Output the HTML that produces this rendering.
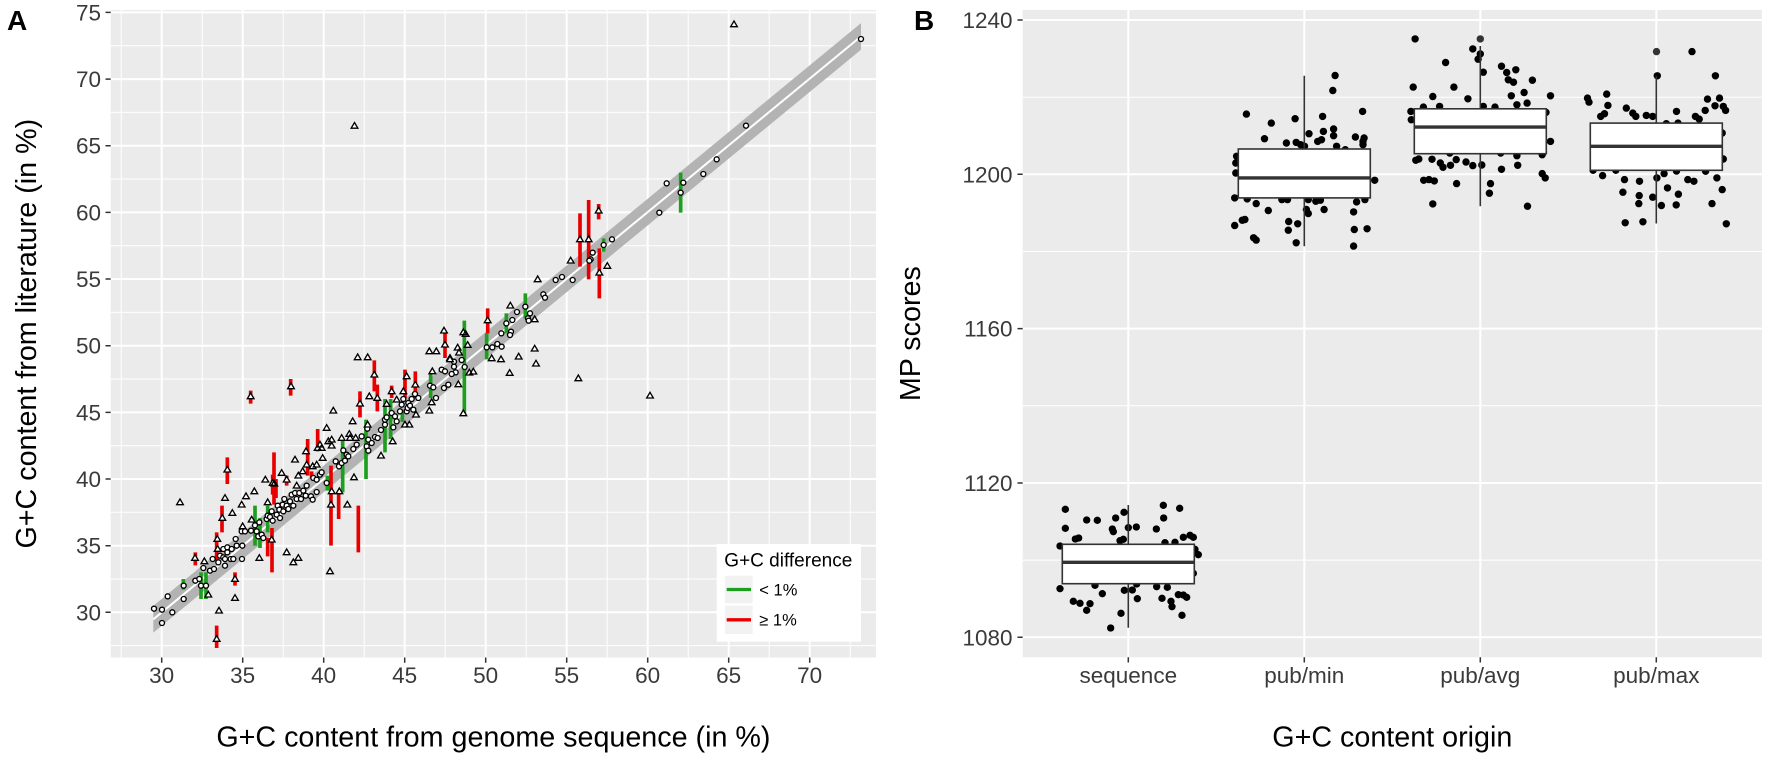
<!DOCTYPE html>
<html><head><meta charset="utf-8"><style>
html,body{margin:0;padding:0;background:#fff;}
svg{display:block;font-family:"Liberation Sans",Arial,Helvetica,sans-serif;}
</style></head><body>
<svg width="1772" height="759" viewBox="0 0 1772 759" xmlns="http://www.w3.org/2000/svg">
<rect x="0" y="0" width="1772" height="759" fill="#fff"/>
<defs>
<clipPath id="ca"><rect x="110.7" y="10" width="765.3" height="647.5"/></clipPath>
<clipPath id="cb"><rect x="1022.7" y="10" width="739.2" height="647.3"/></clipPath>
</defs>

<!-- PANEL A -->
<rect x="110.7" y="10" width="765.3" height="647.5" fill="#EBEBEB"/>
<g stroke="#fff" stroke-width="1" fill="none">
<path d="M121.2,10V657.5M202.2,10V657.5M283.2,10V657.5M364.2,10V657.5M445.2,10V657.5M526.2,10V657.5M607.2,10V657.5M688.2,10V657.5M769.2,10V657.5M850.2,10V657.5"/>
<path d="M110.7,645.6H876M110.7,579H876M110.7,512.3H876M110.7,445.7H876M110.7,379H876M110.7,312.4H876M110.7,245.7H876M110.7,179H876M110.7,112.4H876M110.7,45.7H876"/>
</g>
<g stroke="#fff" stroke-width="2" fill="none">
<path d="M161.7,10V657.5M242.7,10V657.5M323.7,10V657.5M404.7,10V657.5M485.7,10V657.5M566.7,10V657.5M647.7,10V657.5M728.7,10V657.5M809.7,10V657.5"/>
<path d="M110.7,612.3H876M110.7,545.7H876M110.7,479H876M110.7,412.4H876M110.7,345.7H876M110.7,279H876M110.7,212.4H876M110.7,145.7H876M110.7,79.1H876M110.7,12.4H876"/>
</g>

<g clip-path="url(#ca)">
<polygon points="153.3,605.9 861,23.1 861,49.7 153.3,632.6" fill="#B3B3B3"/>
<line x1="153.3" y1="619.3" x2="861" y2="36.4" stroke="#fff" stroke-width="2"/>

<!-- error bars -->
<g transform="translate(140,218) scale(0.333333)" fill="none" stroke-width="11">
<path stroke="#E80000" d="M166,1003V1042M230,943V1030M230,1223V1290M246,863V943M262,718V798M285,1063V1103M332,518V557M396,930V1063M398,770V830M402,703V860M408,783V840M383,960V1015M452,483V533M440,773V803M503,663V773M515,760V780M533,633V700M573,743V983M596,820V903M655,863V1003M660,520V598M703,427V520M712,500V580M755,503V540M795,455V540M826,460V540M915,340V420"/>
<path stroke="#1E9E1E" d="M130,1083V1115M183,1063V1143M198,1063V1143M345,863V983M360,900V990M383,863V943M562,773V818M608,663V823M678,605V783M735,543V703M752,543V663M787,575V612M872,465V540"/>
</g>
<g transform="translate(440,120) scale(0.333333)" fill="none" stroke-width="11">
<path stroke="#E80000" d="M476,252V298M420,280V440M446,240V478M478,385V535M143,565V640"/>
<path stroke="#1E9E1E" d="M491,355V395M722,158V278M256,520V595M199,580V640M73,602V880M140,640V718"/>
</g>

<!-- points Z11 -->
<g transform="translate(140,218) scale(0.333333)" fill="#fff" stroke="#000" stroke-width="4">
<circle cx="42" cy="1172" r="7.5"/><circle cx="66" cy="1175" r="7.5"/><circle cx="66" cy="1215" r="7.5"/><circle cx="83" cy="1135" r="7.5"/><circle cx="97" cy="1183" r="7.5"/><circle cx="131" cy="1143" r="7.5"/><circle cx="131" cy="1103" r="7.5"/><circle cx="166" cy="1088" r="7.5"/><circle cx="178" cy="1083" r="7.5"/><circle cx="183" cy="1103" r="7.5"/><circle cx="198" cy="1103" r="7.5"/><circle cx="190" cy="1050" r="7.5"/><circle cx="210" cy="1058" r="7.5"/><circle cx="222" cy="1053" r="7.5"/><circle cx="218" cy="1023" r="7.5"/><circle cx="235" cy="1033" r="7.5"/><circle cx="240" cy="1013" r="7.5"/><circle cx="250" cy="1018" r="7.5"/><circle cx="255" cy="1043" r="7.5"/><circle cx="250" cy="993" r="7.5"/><circle cx="262" cy="988" r="7.5"/><circle cx="275" cy="993" r="7.5"/><circle cx="262" cy="1003" r="7.5"/><circle cx="272" cy="1023" r="7.5"/><circle cx="255" cy="1023" r="7.5"/><circle cx="280" cy="1023" r="7.5"/><circle cx="290" cy="983" r="7.5"/><circle cx="307" cy="983" r="7.5"/><circle cx="306" cy="1023" r="7.5"/><circle cx="287" cy="963" r="7.5"/><circle cx="305" cy="940" r="7.5"/><circle cx="315" cy="940" r="7.5"/><circle cx="333" cy="938" r="7.5"/><circle cx="345" cy="922" r="7.5"/><circle cx="350" cy="940" r="7.5"/><circle cx="355" cy="955" r="7.5"/><circle cx="358" cy="913" r="7.5"/><circle cx="365" cy="950" r="7.5"/><circle cx="370" cy="960" r="7.5"/><circle cx="380" cy="903" r="7.5"/><circle cx="383" cy="893" r="7.5"/><circle cx="390" cy="897" r="7.5"/><circle cx="395" cy="880" r="7.5"/><circle cx="398" cy="908" r="7.5"/><circle cx="410" cy="890" r="7.5"/><circle cx="413" cy="863" r="7.5"/><circle cx="418" cy="875" r="7.5"/><circle cx="420" cy="900" r="7.5"/><circle cx="428" cy="860" r="7.5"/><circle cx="430" cy="880" r="7.5"/><circle cx="433" cy="843" r="7.5"/><circle cx="440" cy="863" r="7.5"/><circle cx="445" cy="873" r="7.5"/><circle cx="450" cy="850" r="7.5"/><circle cx="455" cy="830" r="7.5"/><circle cx="460" cy="863" r="7.5"/><circle cx="465" cy="825" r="7.5"/><circle cx="470" cy="843" r="7.5"/><circle cx="478" cy="825" r="7.5"/><circle cx="483" cy="843" r="7.5"/><circle cx="490" cy="818" r="7.5"/><circle cx="497" cy="833" r="7.5"/><circle cx="500" cy="803" r="7.5"/><circle cx="513" cy="835" r="7.5"/><circle cx="518" cy="845" r="7.5"/><circle cx="520" cy="780" r="7.5"/><circle cx="530" cy="822" r="7.5"/><circle cx="530" cy="785" r="7.5"/><circle cx="540" cy="770" r="7.5"/><circle cx="545" cy="763" r="7.5"/><circle cx="560" cy="795" r="7.5"/><circle cx="587" cy="730" r="7.5"/><circle cx="597" cy="745" r="7.5"/><circle cx="605" cy="735" r="7.5"/><circle cx="610" cy="697" r="7.5"/><circle cx="615" cy="728" r="7.5"/><circle cx="620" cy="710" r="7.5"/><circle cx="625" cy="715" r="7.5"/><circle cx="640" cy="693" r="7.5"/><circle cx="650" cy="680" r="7.5"/><circle cx="665" cy="655" r="7.5"/><circle cx="680" cy="685" r="7.5"/><circle cx="682" cy="632" r="7.5"/><circle cx="685" cy="665" r="7.5"/><circle cx="685" cy="698" r="7.5"/><circle cx="695" cy="675" r="7.5"/><circle cx="705" cy="657" r="7.5"/><circle cx="713" cy="660" r="7.5"/><circle cx="723" cy="636" r="7.5"/><circle cx="735" cy="620" r="7.5"/><circle cx="735" cy="605" r="7.5"/><circle cx="740" cy="598" r="7.5"/><circle cx="755" cy="585" r="7.5"/><circle cx="760" cy="628" r="7.5"/><circle cx="765" cy="595" r="7.5"/><circle cx="770" cy="610" r="7.5"/><circle cx="780" cy="580" r="7.5"/><circle cx="785" cy="560" r="7.5"/><circle cx="790" cy="543" r="7.5"/><circle cx="800" cy="580" r="7.5"/><circle cx="803" cy="570" r="7.5"/><circle cx="805" cy="555" r="7.5"/><circle cx="810" cy="563" r="7.5"/><circle cx="815" cy="543" r="7.5"/><circle cx="820" cy="575" r="7.5"/><circle cx="825" cy="528" r="7.5"/><circle cx="835" cy="540" r="7.5"/><circle cx="870" cy="503" r="7.5"/><circle cx="880" cy="508" r="7.5"/><circle cx="888" cy="540" r="7.5"/><circle cx="905" cy="455" r="7.5"/><circle cx="912" cy="510" r="7.5"/><circle cx="915" cy="460" r="7.5"/><circle cx="925" cy="500" r="7.5"/>
<path stroke-linejoin="miter" d="M120,853m0,-10l10,17h-20zM165,1020m0,-10l10,17h-20zM193,1030m0,-10l10,17h-20zM205,1130m0,-10l10,17h-20zM230,1263m0,-10l10,17h-20zM237,1178m0,-10l10,17h-20zM285,1140m0,-10l10,17h-20zM285,1083m0,-10l10,17h-20zM232,963m0,-10l10,17h-20zM233,993m0,-10l10,17h-20zM247,900m0,-10l10,17h-20zM255,840m0,-10l10,17h-20zM262,755m0,-10l10,17h-20zM277,885m0,-10l10,17h-20zM305,860m0,-10l10,17h-20zM308,925m0,-10l10,17h-20zM318,835m0,-10l10,17h-20zM343,820m0,-10l10,17h-20zM335,905m0,-10l10,17h-20zM358,1020m0,-10l10,17h-20zM376,785m0,-10l10,17h-20zM383,853m0,-10l10,17h-20zM395,965m0,-10l10,17h-20zM398,795m0,-10l10,17h-20zM403,797m0,-10l10,17h-20zM425,765m0,-10l10,17h-20zM440,785m0,-10l10,17h-20zM440,1003m0,-10l10,17h-20zM460,1033m0,-10l10,17h-20zM465,725m0,-10l10,17h-20zM470,803m0,-10l10,17h-20zM475,773m0,-10l10,17h-20zM475,1020m0,-10l10,17h-20zM488,760m0,-10l10,17h-20zM498,700m0,-10l10,17h-20zM500,740m0,-10l10,17h-20zM518,745m0,-10l10,17h-20zM530,740m0,-10l10,17h-20zM533,690m0,-10l10,17h-20zM540,680m0,-10l10,17h-20zM545,690m0,-10l10,17h-20zM548,720m0,-10l10,17h-20zM560,630m0,-10l10,17h-20zM565,670m0,-10l10,17h-20zM570,1060m0,-10l10,17h-20zM575,665m0,-10l10,17h-20zM575,683m0,-10l10,17h-20zM575,820m0,-10l10,17h-20zM573,860m0,-10l10,17h-20zM580,578m0,-10l10,17h-20zM598,820m0,-10l10,17h-20zM605,660m0,-10l10,17h-20zM622,860m0,-10l10,17h-20zM628,648m0,-10l10,17h-20zM630,660m0,-10l10,17h-20zM638,610m0,-10l10,17h-20zM642,778m0,-10l10,17h-20zM647,660m0,-10l10,17h-20zM653,418m0,-10l10,17h-20zM660,557m0,-10l10,17h-20zM683,418m0,-10l10,17h-20zM683,620m0,-10l10,17h-20zM688,535m0,-10l10,17h-20zM703,470m0,-10l10,17h-20zM712,540m0,-10l10,17h-20zM723,713m0,-10l10,17h-20zM740,558m0,-10l10,17h-20zM755,520m0,-10l10,17h-20zM758,670m0,-10l10,17h-20zM770,545m0,-10l10,17h-20zM790,520m0,-10l10,17h-20zM795,620m0,-10l10,17h-20zM808,620m0,-10l10,17h-20zM800,475m0,-10l10,17h-20zM826,500m0,-10l10,17h-20zM828,590m0,-10l10,17h-20zM868,578m0,-10l10,17h-20zM868,400m0,-10l10,17h-20zM875,553m0,-10l10,17h-20zM877,460m0,-10l10,17h-20zM889,400m0,-10l10,17h-20zM912,338m0,-10l10,17h-20zM915,380m0,-10l10,17h-20zM930,420m0,-10l10,17h-20zM332,535m0,-10l10,17h-20zM453,505m0,-10l10,17h-20z"/>
</g>

<!-- points Z12 -->
<g transform="translate(440,120) scale(0.333333)" fill="#fff" stroke="#000" stroke-width="4">
<circle cx="918" cy="17" r="7.5"/><circle cx="830" cy="118" r="7.5"/><circle cx="790" cy="162" r="7.5"/><circle cx="730" cy="188" r="7.5"/><circle cx="722" cy="218" r="7.5"/><circle cx="680" cy="190" r="7.5"/><circle cx="658" cy="278" r="7.5"/><circle cx="516" cy="358" r="7.5"/><circle cx="491" cy="375" r="7.5"/><circle cx="458" cy="398" r="7.5"/><circle cx="452" cy="418" r="7.5"/><circle cx="448" cy="422" r="7.5"/><circle cx="398" cy="480" r="7.5"/><circle cx="366" cy="471" r="7.5"/><circle cx="347" cy="480" r="7.5"/><circle cx="310" cy="523" r="7.5"/><circle cx="315" cy="533" r="7.5"/><circle cx="256" cy="560" r="7.5"/><circle cx="270" cy="580" r="7.5"/><circle cx="264" cy="595" r="7.5"/><circle cx="266" cy="602" r="7.5"/><circle cx="231" cy="576" r="7.5"/><circle cx="217" cy="600" r="7.5"/><circle cx="199" cy="610" r="7.5"/><circle cx="213" cy="635" r="7.5"/><circle cx="210" cy="645" r="7.5"/><circle cx="184" cy="640" r="7.5"/><circle cx="172" cy="672" r="7.5"/><circle cx="157" cy="682" r="7.5"/><circle cx="140" cy="682" r="7.5"/><circle cx="185" cy="680" r="7.5"/><circle cx="65" cy="720" r="7.5"/><circle cx="42" cy="725" r="7.5"/><circle cx="42" cy="740" r="7.5"/><circle cx="47" cy="757" r="7.5"/><circle cx="35" cy="762" r="7.5"/><circle cx="74" cy="741" r="7.5"/>
<path stroke-linejoin="miter" d="M476,272m0,-10l10,17h-20zM420,358m0,-10l10,17h-20zM446,358m0,-10l10,17h-20zM392,422m0,-10l10,17h-20zM502,438m0,-10l10,17h-20zM478,458m0,-10l10,17h-20zM293,478m0,-10l10,17h-20zM211,557m0,-10l10,17h-20zM284,598m0,-10l10,17h-20zM143,601m0,-10l10,17h-20zM155,715m0,-10l10,17h-20zM183,718m0,-10l10,17h-20zM236,710m0,-10l10,17h-20zM284,686m0,-10l10,17h-20zM288,731m0,-10l10,17h-20zM209,759m0,-10l10,17h-20zM415,775m0,-10l10,17h-20zM630,827m0,-10l10,17h-20zM70,880m0,-10l10,17h-20zM70,637m0,-10l10,17h-20zM77,642m0,-10l10,17h-20zM83,675m0,-10l10,17h-20zM53,683m0,-10l10,17h-20zM57,698m0,-10l10,17h-20zM30,718m0,-10l10,17h-20zM55,793m0,-10l10,17h-20zM100,755m0,-10l10,17h-20zM88,758m0,-10l10,17h-20z"/>
</g>

<!-- extra outliers -->
<g fill="#fff" stroke="#000" stroke-width="1.33">
<circle cx="861" cy="39" r="2.5"/>
<path d="M734,21l3.33,5.67h-6.67zM354.5,122.5l3.33,5.67h-6.67z"/>
</g>
</g>

<!-- A ticks -->
<g stroke="#333" stroke-width="1.5">
<path d="M105.5,612.3H110.7M105.5,545.7H110.7M105.5,479H110.7M105.5,412.4H110.7M105.5,345.7H110.7M105.5,279H110.7M105.5,212.4H110.7M105.5,145.7H110.7M105.5,79.1H110.7M105.5,12.4H110.7"/>
<path d="M161.7,657.5V662.7M242.7,657.5V662.7M323.7,657.5V662.7M404.7,657.5V662.7M485.7,657.5V662.7M566.7,657.5V662.7M647.7,657.5V662.7M728.7,657.5V662.7M809.7,657.5V662.7"/>
</g>
<g font-size="22.5" fill="#3a3a3a" text-anchor="end">
<text x="101" y="620.3">30</text><text x="101" y="553.7">35</text><text x="101" y="487">40</text><text x="101" y="420.4">45</text><text x="101" y="353.7">50</text><text x="101" y="287">55</text><text x="101" y="220.4">60</text><text x="101" y="153.7">65</text><text x="101" y="87.1">70</text><text x="101" y="20.4">75</text>
</g>
<g font-size="22.5" fill="#3a3a3a" text-anchor="middle">
<text x="161.7" y="683">30</text><text x="242.7" y="683">35</text><text x="323.7" y="683">40</text><text x="404.7" y="683">45</text><text x="485.7" y="683">50</text><text x="566.7" y="683">55</text><text x="647.7" y="683">60</text><text x="728.7" y="683">65</text><text x="809.7" y="683">70</text>
</g>
<text x="493.4" y="746.5" font-size="28.7" text-anchor="middle" fill="#000">G+C content from genome sequence (in %)</text>
<text transform="translate(36,333.7) rotate(-90)" font-size="28.7" text-anchor="middle" fill="#000">G+C content from literature (in %)</text>

<!-- legend -->
<rect x="716.7" y="544" width="144.3" height="97.7" fill="#fff"/>
<text x="724.3" y="566.5" font-size="19" fill="#000">G+C difference</text>
<rect x="725" y="575.7" width="27.7" height="27.6" fill="#F2F2F2"/>
<rect x="725" y="605.7" width="27.7" height="28.3" fill="#F2F2F2"/>
<line x1="726.7" y1="589.5" x2="751" y2="589.5" stroke="#1E9E1E" stroke-width="3.3"/>
<line x1="726.7" y1="619.8" x2="751" y2="619.8" stroke="#E80000" stroke-width="3.3"/>
<text x="759.3" y="595.5" font-size="16.5" fill="#000">&lt; 1%</text>
<text x="759.3" y="625.5" font-size="16.5" fill="#000">≥ 1%</text>

<text x="7" y="30" font-size="28" font-weight="bold" fill="#000">A</text>

<!-- PANEL B -->
<rect x="1022.7" y="10" width="739.2" height="647.3" fill="#EBEBEB"/>
<g stroke="#fff" stroke-width="1" fill="none">
<path d="M1022.7,97.2H1761.9M1022.7,251.5H1761.9M1022.7,405.8H1761.9M1022.7,560.1H1761.9"/>
</g>
<g stroke="#fff" stroke-width="2" fill="none">
<path d="M1022.7,20H1761.9M1022.7,174.3H1761.9M1022.7,328.6H1761.9M1022.7,483H1761.9M1022.7,637.3H1761.9"/>
<path d="M1128.3,10V657.3M1304.3,10V657.3M1480.3,10V657.3M1656.3,10V657.3"/>
</g>

<g clip-path="url(#cb)">
<!-- sequence points -->
<g transform="translate(880,460) scale(0.333333)" fill="#000">
<circle cx="556" cy="148" r="11"/><circle cx="556" cy="205" r="11"/><circle cx="586" cy="237" r="11"/><circle cx="596" cy="234" r="11"/><circle cx="620" cy="180" r="11"/><circle cx="652" cy="181" r="11"/><circle cx="707" cy="174" r="11"/><circle cx="732" cy="157" r="11"/><circle cx="697" cy="207" r="11"/><circle cx="700" cy="215" r="11"/><circle cx="745" cy="203" r="11"/><circle cx="769" cy="201" r="11"/><circle cx="829" cy="207" r="11"/><circle cx="850" cy="136" r="11"/><circle cx="851" cy="174" r="11"/><circle cx="899" cy="145" r="11"/><circle cx="910" cy="232" r="11"/><circle cx="930" cy="226" r="11"/><circle cx="940" cy="232" r="11"/><circle cx="855" cy="248" r="11"/><circle cx="885" cy="247" r="11"/><circle cx="720" cy="242" r="11"/><circle cx="730" cy="238" r="11"/><circle cx="540" cy="258" r="11"/><circle cx="945" cy="268" r="11"/><circle cx="955" cy="284" r="11"/><circle cx="940" cy="340" r="11"/><circle cx="540" cy="386" r="11"/><circle cx="580" cy="424" r="11"/><circle cx="600" cy="430" r="11"/><circle cx="630" cy="431" r="11"/><circle cx="620" cy="451" r="11"/><circle cx="645" cy="376" r="11"/><circle cx="667" cy="401" r="11"/><circle cx="733" cy="391" r="11"/><circle cx="757" cy="390" r="11"/><circle cx="772" cy="416" r="11"/><circle cx="770" cy="372" r="11"/><circle cx="830" cy="380" r="11"/><circle cx="862" cy="382" r="11"/><circle cx="846" cy="415" r="11"/><circle cx="873" cy="424" r="11"/><circle cx="876" cy="440" r="11"/><circle cx="895" cy="404" r="11"/><circle cx="910" cy="405" r="11"/><circle cx="920" cy="412" r="11"/><circle cx="906" cy="466" r="11"/><circle cx="723" cy="460" r="11"/><circle cx="692" cy="504" r="11"/>
</g>
<!-- pub points -->
<g fill="#000">
<circle cx="1246.4" cy="114.1" r="3.7"/><circle cx="1271.3" cy="123.1" r="3.7"/><circle cx="1295.1" cy="118.7" r="3.7"/><circle cx="1264.5" cy="138.7" r="3.7"/><circle cx="1286.4" cy="143" r="3.7"/><circle cx="1296.2" cy="142.4" r="3.7"/><circle cx="1309" cy="133.7" r="3.7"/><circle cx="1322.6" cy="116.4" r="3.7"/><circle cx="1332.8" cy="90.5" r="3.7"/><circle cx="1335.1" cy="75.5" r="3.7"/><circle cx="1362.6" cy="111.4" r="3.7"/><circle cx="1323.4" cy="131.4" r="3.7"/><circle cx="1333.6" cy="129" r="3.7"/><circle cx="1333.6" cy="135.7" r="3.7"/><circle cx="1317.7" cy="141.4" r="3.7"/><circle cx="1321.5" cy="139.7" r="3.7"/><circle cx="1355.4" cy="137" r="3.7"/><circle cx="1364.1" cy="138" r="3.7"/><circle cx="1363" cy="144.7" r="3.7"/><circle cx="1336.6" cy="146.3" r="3.7"/><circle cx="1345.3" cy="149.7" r="3.7"/><circle cx="1236.6" cy="156.3" r="3.7"/><circle cx="1235.8" cy="163" r="3.7"/><circle cx="1235.8" cy="173" r="3.7"/><circle cx="1374.7" cy="180.3" r="3.7"/><circle cx="1234.7" cy="197.9" r="3.7"/><circle cx="1247.2" cy="198.9" r="3.7"/><circle cx="1256.2" cy="203.6" r="3.7"/><circle cx="1268.3" cy="210.5" r="3.7"/><circle cx="1281.9" cy="199.6" r="3.7"/><circle cx="1287.5" cy="199.6" r="3.7"/><circle cx="1308.3" cy="199.6" r="3.7"/><circle cx="1315.8" cy="201.2" r="3.7"/><circle cx="1320.4" cy="200.2" r="3.7"/><circle cx="1324.1" cy="209.5" r="3.7"/><circle cx="1306.4" cy="209.5" r="3.7"/><circle cx="1308.3" cy="213.5" r="3.7"/><circle cx="1288.7" cy="221.5" r="3.7"/><circle cx="1297.7" cy="223.8" r="3.7"/><circle cx="1288.3" cy="230.2" r="3.7"/><circle cx="1244.9" cy="219.5" r="3.7"/><circle cx="1242.3" cy="220.2" r="3.7"/><circle cx="1234.7" cy="225.5" r="3.7"/><circle cx="1253.6" cy="237.8" r="3.7"/><circle cx="1256.2" cy="240.1" r="3.7"/><circle cx="1296.2" cy="242.8" r="3.7"/><circle cx="1353.6" cy="246.1" r="3.7"/><circle cx="1354.3" cy="229.5" r="3.7"/><circle cx="1367.1" cy="228.8" r="3.7"/><circle cx="1353.6" cy="211.9" r="3.7"/><circle cx="1356.6" cy="201.9" r="3.7"/><circle cx="1364.9" cy="199.6" r="3.7"/><circle cx="1304.5" cy="146.3" r="3.7"/><circle cx="1300.7" cy="144.7" r="3.7"/><circle cx="1363" cy="141.4" r="3.7"/>
<circle cx="1415.1" cy="38.9" r="3.7"/><circle cx="1472.8" cy="48.9" r="3.7"/><circle cx="1480.3" cy="53.9" r="3.7"/><circle cx="1478.1" cy="59.2" r="3.7"/><circle cx="1445.6" cy="62.5" r="3.7"/><circle cx="1501.5" cy="66.2" r="3.7"/><circle cx="1506.7" cy="72.5" r="3.7"/><circle cx="1515.8" cy="69.8" r="3.7"/><circle cx="1483.3" cy="72.2" r="3.7"/><circle cx="1508.3" cy="79.8" r="3.7"/><circle cx="1513.5" cy="82.2" r="3.7"/><circle cx="1532.4" cy="80.2" r="3.7"/><circle cx="1413.2" cy="87.1" r="3.7"/><circle cx="1453.9" cy="87.1" r="3.7"/><circle cx="1524.1" cy="92.5" r="3.7"/><circle cx="1511.3" cy="95.8" r="3.7"/><circle cx="1550.5" cy="95.8" r="3.7"/><circle cx="1432.8" cy="96.5" r="3.7"/><circle cx="1467.9" cy="98.8" r="3.7"/><circle cx="1527.1" cy="103.1" r="3.7"/><circle cx="1516.9" cy="104.8" r="3.7"/><circle cx="1410.9" cy="111.4" r="3.7"/><circle cx="1411.3" cy="119.7" r="3.7"/><circle cx="1423.4" cy="107.1" r="3.7"/><circle cx="1439.6" cy="106.4" r="3.7"/><circle cx="1495" cy="107.1" r="3.7"/><circle cx="1483.3" cy="106.4" r="3.7"/><circle cx="1546" cy="112.4" r="3.7"/><circle cx="1550.5" cy="141.4" r="3.7"/><circle cx="1542.2" cy="154.7" r="3.7"/><circle cx="1516.9" cy="155.7" r="3.7"/><circle cx="1415.8" cy="160.3" r="3.7"/><circle cx="1418.8" cy="159" r="3.7"/><circle cx="1432" cy="159.3" r="3.7"/><circle cx="1440.3" cy="163" r="3.7"/><circle cx="1443" cy="167.3" r="3.7"/><circle cx="1450.5" cy="165.3" r="3.7"/><circle cx="1456.2" cy="159.6" r="3.7"/><circle cx="1466" cy="162" r="3.7"/><circle cx="1472.8" cy="165.6" r="3.7"/><circle cx="1481.8" cy="165" r="3.7"/><circle cx="1501.5" cy="169.3" r="3.7"/><circle cx="1517.7" cy="165.3" r="3.7"/><circle cx="1542.2" cy="173.6" r="3.7"/><circle cx="1545.2" cy="177.9" r="3.7"/><circle cx="1423.7" cy="180.3" r="3.7"/><circle cx="1429" cy="179.6" r="3.7"/><circle cx="1434.3" cy="180.9" r="3.7"/><circle cx="1456.6" cy="183.6" r="3.7"/><circle cx="1490.5" cy="183.6" r="3.7"/><circle cx="1489.4" cy="193.2" r="3.7"/><circle cx="1432.8" cy="203.9" r="3.7"/><circle cx="1527.5" cy="206.2" r="3.7"/><circle cx="1449.8" cy="153" r="3.7"/><circle cx="1500.7" cy="153" r="3.7"/>
<circle cx="1692" cy="51.6" r="3.7"/><circle cx="1657.3" cy="75.8" r="3.7"/><circle cx="1715.4" cy="75.8" r="3.7"/><circle cx="1587.5" cy="98.1" r="3.7"/><circle cx="1589" cy="102.1" r="3.7"/><circle cx="1606.7" cy="94.1" r="3.7"/><circle cx="1607.9" cy="105.4" r="3.7"/><circle cx="1626.3" cy="108.1" r="3.7"/><circle cx="1600.7" cy="116.4" r="3.7"/><circle cx="1604.5" cy="113.7" r="3.7"/><circle cx="1632.8" cy="113.1" r="3.7"/><circle cx="1635.8" cy="116.4" r="3.7"/><circle cx="1646.3" cy="115.4" r="3.7"/><circle cx="1652.7" cy="116.4" r="3.7"/><circle cx="1676.5" cy="111.4" r="3.7"/><circle cx="1695.4" cy="116.4" r="3.7"/><circle cx="1699.2" cy="119.1" r="3.7"/><circle cx="1705.2" cy="110.4" r="3.7"/><circle cx="1707.5" cy="99.1" r="3.7"/><circle cx="1719.5" cy="98.1" r="3.7"/><circle cx="1715" cy="105.8" r="3.7"/><circle cx="1723.3" cy="106.4" r="3.7"/><circle cx="1725.6" cy="110.4" r="3.7"/><circle cx="1666.3" cy="123.7" r="3.7"/><circle cx="1678" cy="123.1" r="3.7"/><circle cx="1723.3" cy="159" r="3.7"/><circle cx="1722.2" cy="133" r="3.7"/><circle cx="1593.1" cy="170.3" r="3.7"/><circle cx="1602.6" cy="175.6" r="3.7"/><circle cx="1615.8" cy="170.3" r="3.7"/><circle cx="1624.5" cy="179.6" r="3.7"/><circle cx="1639.5" cy="181.3" r="3.7"/><circle cx="1656.9" cy="177.9" r="3.7"/><circle cx="1664.1" cy="173.6" r="3.7"/><circle cx="1676.5" cy="171" r="3.7"/><circle cx="1687.8" cy="179.6" r="3.7"/><circle cx="1693.9" cy="181.3" r="3.7"/><circle cx="1705.6" cy="171.3" r="3.7"/><circle cx="1716.9" cy="177.9" r="3.7"/><circle cx="1622.9" cy="192.2" r="3.7"/><circle cx="1639.2" cy="195.6" r="3.7"/><circle cx="1652.7" cy="197.2" r="3.7"/><circle cx="1667.5" cy="187.9" r="3.7"/><circle cx="1678.4" cy="194.2" r="3.7"/><circle cx="1722.2" cy="189.6" r="3.7"/><circle cx="1638.8" cy="203.6" r="3.7"/><circle cx="1661.4" cy="205.5" r="3.7"/><circle cx="1676.2" cy="204.9" r="3.7"/><circle cx="1712" cy="203.6" r="3.7"/><circle cx="1625.2" cy="222.8" r="3.7"/><circle cx="1642.9" cy="221.8" r="3.7"/><circle cx="1726.3" cy="223.8" r="3.7"/>
</g>
<!-- boxplots -->
<g stroke="#333" stroke-width="1.6" fill="#fff">
<path fill="none" d="M1128.3,505V544.3M1128.3,583.7V627.7M1304.3,75.8V149M1304.3,197.9V246.2M1480.3,46V108.8M1480.3,153.7V206.2M1656.3,75.8V123.1M1656.3,170.3V223.5"/>
<rect x="1062.3" y="544.3" width="132" height="39.4"/>
<rect x="1238.3" y="149" width="132" height="48.9"/>
<rect x="1414.3" y="108.8" width="132" height="44.9"/>
<rect x="1590.3" y="123.1" width="132" height="47.2"/>
<path fill="none" stroke-width="3.4" d="M1062.3,562.3H1194.3M1238.3,177.9H1370.3M1414.3,127.1H1546.3M1590.3,146.3H1722.3"/>
</g>
<g fill="#333">
<circle cx="1480.3" cy="38.9" r="3.7"/><circle cx="1656.5" cy="51.6" r="3.7"/>
</g>
</g>

<!-- B ticks -->
<g stroke="#333" stroke-width="1.5">
<path d="M1017.5,20H1022.7M1017.5,174.3H1022.7M1017.5,328.6H1022.7M1017.5,483H1022.7M1017.5,637.3H1022.7"/>
<path d="M1128.3,657.3V662.5M1304.3,657.3V662.5M1480.3,657.3V662.5M1656.3,657.3V662.5"/>
</g>
<g font-size="22.5" fill="#3a3a3a" text-anchor="end">
<text x="1012.5" y="28">1240</text><text x="1012.5" y="182.3">1200</text><text x="1012.5" y="336.6">1160</text><text x="1012.5" y="491">1120</text><text x="1012.5" y="645.3">1080</text>
</g>
<g font-size="22.5" fill="#3a3a3a" text-anchor="middle">
<text x="1128.3" y="683">sequence</text><text x="1304.3" y="683">pub/min</text><text x="1480.3" y="683">pub/avg</text><text x="1656.3" y="683">pub/max</text>
</g>
<text x="1392.3" y="746.5" font-size="28.7" text-anchor="middle" fill="#000">G+C content origin</text>
<text transform="translate(920,333.7) rotate(-90)" font-size="28.7" text-anchor="middle" fill="#000">MP scores</text>
<text x="914" y="30" font-size="28" font-weight="bold" fill="#000">B</text>
</svg>
</body></html>
